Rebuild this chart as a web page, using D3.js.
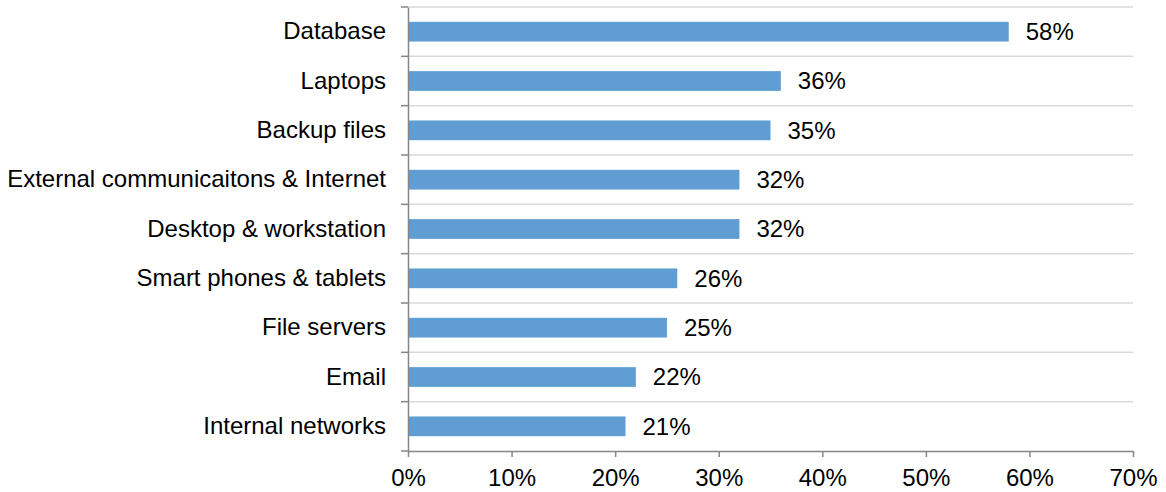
<!DOCTYPE html>
<html>
<head>
<meta charset="utf-8">
<script src="https://cdn.jsdelivr.net/npm/d3@7"></script>
<style>
  html, body { margin: 0; padding: 0; background: #fff; }
  svg text { font-family: "Liberation Sans", Arial, sans-serif; fill: #000; }
</style>
</head>
<body>
<svg id="chart" width="1166" height="492"></svg>
<script>
// Assets targeted, share of respondents
const categories = [
  "Database",
  "Laptops",
  "Backup files",
  "External communicaitons & Internet",
  "Desktop & workstation",
  "Smart phones & tablets",
  "File servers",
  "Email",
  "Internal networks"
];
const values = [58, 36, 35, 32, 32, 26, 25, 22, 21];
const xTicks = [0, 10, 20, 30, 40, 50, 60, 70];

const FONT = 24;
const svg = d3.select("#chart");
const margin = { top: 7, left: 408, right: 33, bottom: 41 };
const W = 1166, H = 492;

const x = d3.scaleLinear().domain([0, 70]).range([margin.left, W - margin.right]);
const y = d3.scaleBand().domain(categories).range([margin.top, H - margin.bottom]).paddingInner(0.6).paddingOuter(0.3);
const yBands = d3.scaleBand().domain(categories).range([margin.top, H - margin.bottom]);

// horizontal gridlines at band boundaries
const bounds = categories.map(c => yBands(c));
svg.append("g").selectAll("line").data(bounds).join("line")
  .attr("x1", x(0)).attr("x2", x(70))
  .attr("y1", d => d).attr("y2", d => d)
  .attr("stroke", "#d9d9d9").attr("stroke-width", 1.5);

// bars
svg.append("g").selectAll("rect").data(categories).join("rect")
  .attr("x", x(0))
  .attr("y", (c) => y(c))
  .attr("width", (c, i) => x(values[i]) - x(0))
  .attr("height", y.bandwidth())
  .attr("fill", "#5f9dd2");

// value labels
svg.append("g").selectAll("text").data(categories).join("text")
  .attr("x", (c, i) => x(values[i]) + 17)
  .attr("y", c => y(c) + y.bandwidth() / 2)
  .attr("dy", "0.35em")
  .style("font-size", FONT + "px")
  .text((c, i) => values[i] + "%");

// y axis
const yAxis = d3.axisLeft(yBands).tickSize(0).tickPadding(22);
const gy = svg.append("g").attr("transform", `translate(${x(0)},0)`).call(yAxis);
gy.select(".domain").attr("stroke", "#868686").attr("stroke-width", 1.5);
gy.selectAll("text").style("font-size", FONT + "px");
// y ticks sit on band boundaries
svg.append("g").selectAll("line").data(bounds.concat([H - margin.bottom])).join("line")
  .attr("x1", x(0) - 7).attr("x2", x(0))
  .attr("y1", d => d).attr("y2", d => d)
  .attr("stroke", "#868686").attr("stroke-width", 1.5);

// x axis
const xAxis = d3.axisBottom(x).tickValues(xTicks).tickSize(6).tickSizeOuter(0).tickPadding(12)
  .tickFormat(d => d + "%");
const gx = svg.append("g").attr("transform", `translate(0,${H - margin.bottom})`).call(xAxis);
gx.select(".domain").attr("stroke", "#868686").attr("stroke-width", 1.5);
gx.selectAll(".tick line").attr("stroke", "#868686").attr("stroke-width", 1.5);
gx.selectAll("text").style("font-size", FONT + "px");
</script>
</body>
</html>
